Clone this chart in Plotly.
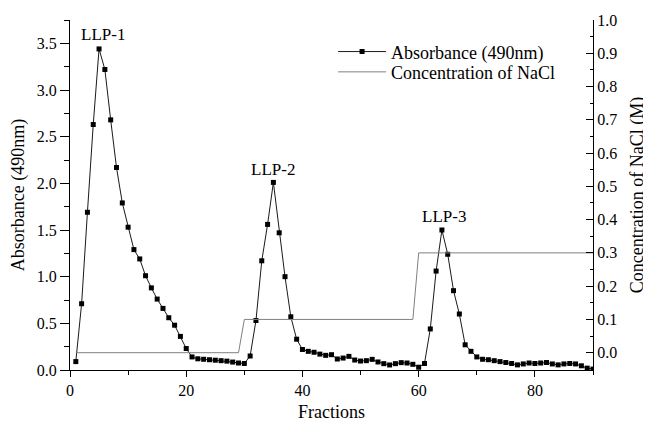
import plotly.graph_objects as go

# Absorbance at 490 nm per fraction
fractions = list(range(1, 91))
absorbance = [
    0.09, 0.71, 1.69, 2.63, 3.44, 3.22, 2.68, 2.17, 1.79, 1.53,
    1.29, 1.19, 1.01, 0.88, 0.76, 0.66, 0.56, 0.48, 0.36, 0.23,
    0.14, 0.12, 0.115, 0.11, 0.105, 0.10, 0.095, 0.085, 0.075, 0.07,
    0.15, 0.53, 1.17, 1.56, 2.01, 1.47, 1.00, 0.57, 0.33, 0.22,
    0.20, 0.19, 0.17, 0.157, 0.164, 0.118, 0.128, 0.146, 0.107, 0.096,
    0.10, 0.114, 0.086, 0.068, 0.054, 0.068, 0.079, 0.075, 0.061, 0.03,
    0.07, 0.44, 1.06, 1.50, 1.24, 0.85, 0.60, 0.27, 0.20, 0.14,
    0.115, 0.11, 0.10, 0.09, 0.08, 0.07, 0.055, 0.065, 0.075, 0.07,
    0.075, 0.08, 0.065, 0.055, 0.065, 0.07, 0.065, 0.045, 0.02, 0.01,
]

# NaCl step gradient (breakpoints)
nacl_fractions = [1, 29, 30, 59, 60, 90]
nacl_conc = [0.0, 0.0, 0.1, 0.1, 0.3, 0.3]

# Peak labels
peak_labels = ["LLP-1", "LLP-2", "LLP-3"]
peak_x = [5.6, 35.0, 64.4]
peak_y = [3.59, 2.15, 1.64]

FONT = "Liberation Serif, Times New Roman, serif"

fig = go.Figure()
fig.add_trace(go.Scatter(
    x=fractions, y=absorbance, name="Absorbance (490nm)",
    mode="lines+markers",
    line=dict(color="#1a1a1a", width=1),
    marker=dict(symbol="square", size=5, color="black"),
    yaxis="y", legend="legend",
))
fig.add_trace(go.Scatter(
    x=nacl_fractions, y=nacl_conc, name="Concentration of NaCl",
    mode="lines",
    line=dict(color="#808080", width=1),
    yaxis="y2", legend="legend2",
))

for t, x, y in zip(peak_labels, peak_x, peak_y):
    fig.add_annotation(x=x, y=y, xref="x", yref="y", text=t, showarrow=False,
                       font=dict(family=FONT, size=17, color="black"))

axis_common = dict(
    showgrid=False, zeroline=False, showline=True, linecolor="black", linewidth=1,
    tickfont=dict(family=FONT, size=16, color="black"),
    tickcolor="black", tickwidth=1, automargin=False,
)

legend_common = dict(
    x=0.503, xanchor="left", yanchor="middle",
    font=dict(family=FONT, size=18, color="black"),
    bgcolor="rgba(0,0,0,0)", itemwidth=48,
)

# The page body adds an 8px offset, so the figure is sized to fit the window.
fig.update_layout(
    template="none",
    width=643, height=414,
    margin=dict(l=62, r=58, t=12, b=52),
    paper_bgcolor="white", plot_bgcolor="white",
    font=dict(family=FONT, color="black"),
    xaxis=dict(
        range=[0, 90], tickmode="linear", tick0=0, dtick=20, ticks="outside", ticklen=6,
        minor=dict(dtick=10, ticks="outside", ticklen=4, tickcolor="black"),
        title=dict(text="Fractions", font=dict(family=FONT, size=18), standoff=14),
        **axis_common,
    ),
    yaxis=dict(
        range=[0, 3.75], tickmode="linear", tick0=0, dtick=0.5, ticks="outside", ticklen=9,
        tickformat=".1f",
        minor=dict(dtick=0.25, ticks="outside", ticklen=5, tickcolor="black"),
        title=dict(text="Absorbance (490nm)", font=dict(family=FONT, size=18), standoff=8),
        **axis_common,
    ),
    yaxis2=dict(
        range=[-0.052, 1.0], overlaying="y", side="right", anchor="x",
        tickmode="linear", tick0=0, dtick=0.1, ticks="inside", ticklen=7, tickformat=".1f",
        minor=dict(dtick=0.05, ticks="inside", ticklen=3, tickcolor="black"),
        title=dict(text="Concentration of NaCl (M)", font=dict(family=FONT, size=18), standoff=14),
        **axis_common,
    ),
    legend=dict(y=0.909, **legend_common),
    legend2=dict(y=0.851, **legend_common),
    showlegend=True,
)

fig.write_html("out.html")
